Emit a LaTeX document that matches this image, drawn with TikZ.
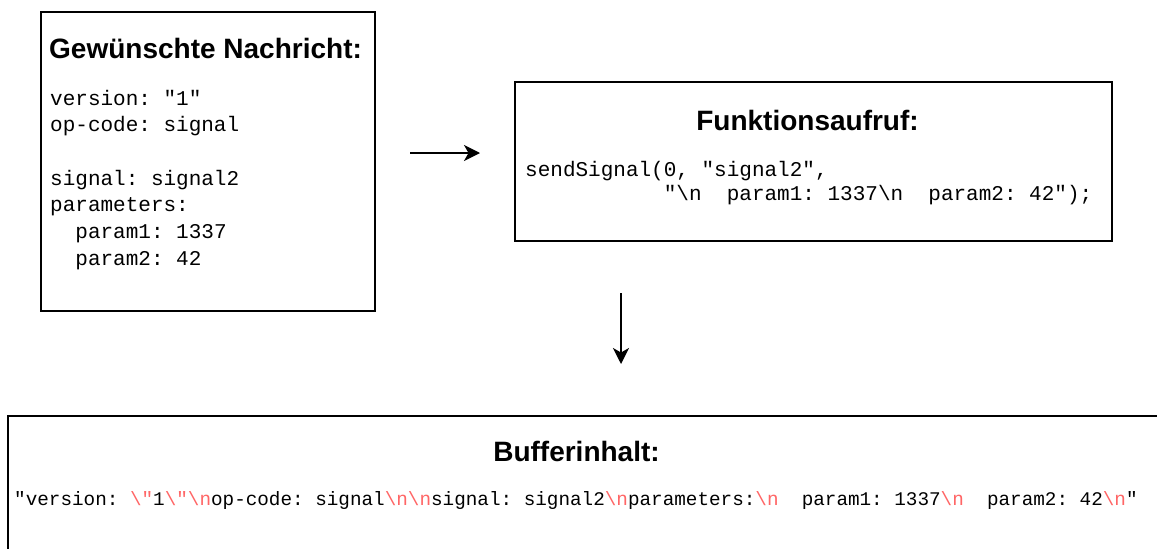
\documentclass[tikz,border=0pt]{standalone}
\usepackage{fontspec}
\setsansfont{Liberation Sans}
\setmonofont{Liberation Mono}
\usetikzlibrary{arrows.meta}
\definecolor{esc}{RGB}{255,102,102}
% escape sequences inside the buffer string
\newcommand\nl{\textcolor{esc}{\textbackslash n}}
\newcommand\bq{\textcolor{esc}{\textbackslash "}}
\begin{document}
\begin{tikzpicture}[x=1pt,y=-1pt,
  panel/.style={draw=black, line width=1.3pt, inner sep=0pt},
  heading/.style={font=\sffamily\bfseries\fontsize{28}{34}\selectfont, inner sep=0pt, anchor=base},
  codeline/.style={font=\ttfamily\fontsize{21}{26}\selectfont, inner sep=0pt, anchor=base west},
  bufline/.style={font=\ttfamily\fontsize{19.3}{24}\selectfont, inner sep=0pt, anchor=base west},
  flow/.style={line width=1.4pt, -{Stealth[length=16pt,width=16pt,inset=4.5pt]}}]
\useasboundingbox (0,0) rectangle (1157,549);
\clip (0,0) rectangle (1157,549);

% desired message
\node[panel, minimum width=334pt, minimum height=299pt] (msg) at (208,161.5) {};
\node[heading, anchor=base west] (msgtitle) at (49,58) {Gewünschte Nachricht:};
\node[codeline] (m1) at (50,105) {version: "1"};
\node[codeline] (m2) at (50,131.7) {op-code: signal};
\node[codeline] (m3) at (50,185.1) {signal: signal2};
\node[codeline] (m4) at (50,211.8) {parameters:};
\node[codeline] (m5) at (50,238.5) {~~param1: 1337};
\node[codeline] (m6) at (50,265.2) {~~param2: 42};

% function call
\node[panel, minimum width=597pt, minimum height=159pt] (call) at (813.5,161.5) {};
\node[heading] (calltitle) at (807.5,130) {Funktionsaufruf:};
\node[codeline] (c1) at (525,176.5) {sendSignal(0, "signal2",};
\node[codeline] (c2) at (525,200.5) {~~~~~~~~~~~"\textbackslash n~~param1: 1337\textbackslash n~~param2: 42");};

% buffer contents
\node[panel, minimum width=1152pt, minimum height=144pt] (buf) at (584,488) {};
\node[heading] (buftitle) at (576.5,461) {Bufferinhalt:};
\node[bufline] (b1) at (14,505) {"version: \bq1\bq\nl op-code: signal\nl\nl signal: signal2\nl parameters:\nl~~param1: 1337\nl~~param2: 42\nl"};

% connectors
\coordinate (h1) at (410,153);
\coordinate (h2) at (480,153);
\coordinate (v1) at (621,293);
\coordinate (v2) at (621,364);
\draw[flow] (h1) -- (h2);
\draw[flow] (v1) -- (v2);
\end{tikzpicture}
\end{document}
